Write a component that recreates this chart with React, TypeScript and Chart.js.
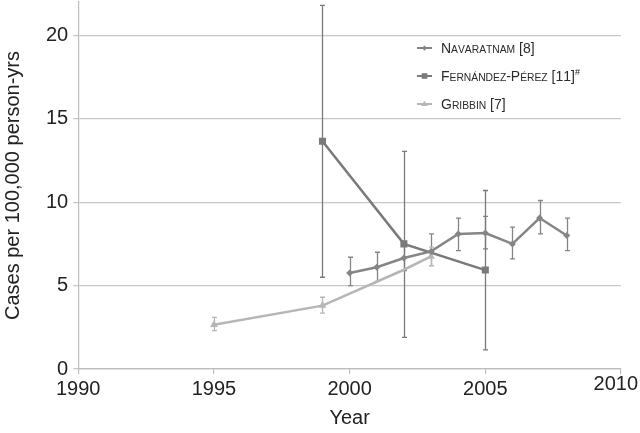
import React, { useEffect, useRef } from 'react';
import { Chart, registerables } from 'chart.js';

Chart.register(...registerables);

// ---- data ----
const seriesLabels = ['Navaratnam [8]', 'Fernández-Pérez [11]#', 'Gribbin [7]'];

const navYears = [2000, 2001, 2002, 2003, 2004, 2005, 2006, 2007, 2008];
const navRates = [5.75, 6.1, 6.65, 7.05, 8.1, 8.15, 7.5, 9.05, 8.0];
const navLow = [5.0, 5.25, 5.9, 6.2, 7.1, 7.2, 6.6, 8.1, 7.1];
const navHigh = [6.7, 7.0, 7.4, 8.1, 9.05, 9.15, 8.5, 10.1, 9.05];

const ferYears = [1999, 2002, 2005];
const ferRates = [13.65, 7.5, 5.93];
const ferLow = [5.5, 1.9, 1.15];
const ferHigh = [21.8, 13.05, 10.7];

const gribYears = [1995, 1999, 2002, 2003];
const gribRates = [2.65, 3.8, 5.95, 6.75];
const gribLow: (number | null)[] = [2.3, 3.35, null, 6.2];
const gribHigh: (number | null)[] = [3.1, 4.3, null, 7.3];

const xTickValues = [1990, 1995, 2000, 2005, 2010];
const yTickValues = [0, 5, 10, 15, 20];

const xTitle = 'Year';
const yTitle = 'Cases per 100,000 person-yrs';

const colors = ['#858585', '#7a7a7a', '#b6b6b6'];
const pointStyles = ['rectRot', 'rect', 'triangle'];
const pointRadii = [3.5, 5, 4.5];

const errLows = [navLow, ferLow, gribLow];
const errHighs = [navHigh, ferHigh, gribHigh];

const FONT = '"Liberation Sans", Arial, Helvetica, sans-serif';
const FS = 20;
const SHIFT = 3; // canvas is placed 3px above the page top

const toPoints = (xs: number[], ys: number[]) => xs.map((x, i) => ({ x, y: ys[i] }));

const errorBarPlugin = {
  id: 'errorBars',
  beforeDatasetsDraw(chart: any) {
    const { ctx, scales } = chart;
    const xs = scales.x;
    const ys = scales.y;
    chart.data.datasets.forEach((ds: any, i: number) => {
      const lows = errLows[i];
      const highs = errHighs[i];
      ctx.save();
      ctx.strokeStyle = colors[i];
      ctx.lineWidth = 1.3;
      ds.data.forEach((pt: any, j: number) => {
        const lo = lows[j];
        const hi = highs[j];
        if (lo == null || hi == null) return;
        const px = Math.round(xs.getPixelForValue(pt.x)) + 0.5;
        const yl = ys.getPixelForValue(lo);
        const yh = ys.getPixelForValue(hi);
        ctx.beginPath();
        ctx.moveTo(px, yl);
        ctx.lineTo(px, yh);
        ctx.moveTo(px - 2.5, yl);
        ctx.lineTo(px + 2.5, yl);
        ctx.moveTo(px - 2.5, yh);
        ctx.lineTo(px + 2.5, yh);
        ctx.stroke();
      });
      ctx.restore();
    });
  },
};

function drawSmallCapsText(ctx: CanvasRenderingContext2D, text: string, x: number, y: number) {
  let cx = x;
  for (const ch of Array.from(text)) {
    let font = `14px ${FONT}`;
    let drawCh = ch;
    let dy = 0;
    if (ch === '#') {
      font = `9px ${FONT}`;
      dy = -6;
    } else if (ch !== ch.toUpperCase()) {
      font = `10.3px ${FONT}`;
      drawCh = ch.toUpperCase();
    }
    ctx.font = font;
    ctx.fillText(drawCh, cx, y + dy);
    cx += ctx.measureText(drawCh).width;
  }
}

const legendPlugin = {
  id: 'customLegend',
  afterDraw(chart: any) {
    const { ctx } = chart;
    ctx.save();
    seriesLabels.forEach((label, i) => {
      const cy = 48 + SHIFT + i * 28;
      ctx.strokeStyle = colors[i];
      ctx.lineWidth = 2;
      ctx.beginPath();
      ctx.moveTo(417, cy);
      ctx.lineTo(432, cy);
      ctx.stroke();
      ctx.fillStyle = colors[i];
      const r = pointRadii[i] * 0.75;
      ctx.beginPath();
      if (pointStyles[i] === 'rectRot') {
        ctx.moveTo(424.5, cy - r);
        ctx.lineTo(424.5 + r, cy);
        ctx.lineTo(424.5, cy + r);
        ctx.lineTo(424.5 - r, cy);
      } else if (pointStyles[i] === 'rect') {
        const s = r * 0.75;
        ctx.rect(424.5 - s, cy - s, 2 * s, 2 * s);
      } else {
        ctx.moveTo(424.5, cy - r);
        ctx.lineTo(424.5 + r, cy + r * 0.6);
        ctx.lineTo(424.5 - r, cy + r * 0.6);
      }
      ctx.closePath();
      ctx.fill();

      ctx.fillStyle = '#2a2a2a';
      ctx.textBaseline = 'alphabetic';
      ctx.textAlign = 'left';
      drawSmallCapsText(ctx, label, 441, cy + 5);
    });

    // last x tick label (shifted as in the source figure)
    const xs = chart.scales.x;
    const last = xTickValues[xTickValues.length - 1];
    ctx.font = `${FS}px ${FONT}`;
    ctx.fillStyle = '#222';
    ctx.textAlign = 'right';
    ctx.textBaseline = 'middle';
    const lx = Math.min(xs.getPixelForValue(last) + 19, chart.width - 2);
    ctx.fillText(String(last), lx, xs.top + 15);
    ctx.restore();
  },
};

export default function App() {
  const ref = useRef<HTMLCanvasElement | null>(null);

  useEffect(() => {
    if (!ref.current) return;
    const datasets = [
      toPoints(navYears, navRates),
      toPoints(ferYears, ferRates),
      toPoints(gribYears, gribRates),
    ].map((data, i) => ({
      label: seriesLabels[i],
      data,
      borderColor: colors[i],
      backgroundColor: colors[i],
      borderWidth: 2.5,
      pointStyle: pointStyles[i],
      pointRadius: (c: any) => (errLows[i][c.dataIndex] == null ? 0 : pointRadii[i]),
      pointBorderWidth: 0,
      pointBackgroundColor: colors[i],
      pointBorderColor: colors[i],
      tension: 0,
    }));

    const chart = new Chart(ref.current, {
      type: 'line',
      data: { datasets },
      plugins: [errorBarPlugin, legendPlugin],
      options: {
        animation: false,
        responsive: true,
        maintainAspectRatio: false,
        layout: { padding: { left: 0, right: 19, top: 0, bottom: 0 } },
        plugins: {
          legend: { display: false },
          tooltip: { enabled: false },
        },
        scales: {
          x: {
            type: 'linear',
            min: xTickValues[0],
            max: xTickValues[xTickValues.length - 1],
            afterBuildTicks: (s: any) => {
              s.ticks = xTickValues.map((v) => ({ value: v }));
            },
            ticks: {
              autoSkip: false,
              maxRotation: 0,
              padding: 3,
              color: '#222',
              font: { family: FONT, size: FS },
              callback: (v: any) => (v === xTickValues[xTickValues.length - 1] ? '' : String(v)),
            },
            grid: {
              drawOnChartArea: false,
              drawTicks: true,
              tickLength: 5,
              color: '#bdbdbd',
              lineWidth: 1.2,
            },
            border: { color: '#bdbdbd', width: 1.2 },
            title: {
              display: true,
              text: xTitle,
              color: '#222',
              font: { family: FONT, size: FS },
              padding: { top: 2, bottom: 4 },
            },
          },
          y: {
            type: 'linear',
            min: 0,
            max: 22,
            afterBuildTicks: (s: any) => {
              s.ticks = yTickValues.map((v) => ({ value: v }));
            },
            afterFit: (s: any) => {
              s.paddingTop = 0;
              s.paddingBottom = 0;
            },
            ticks: {
              padding: 5,
              color: '#222',
              font: { family: FONT, size: FS },
            },
            grid: {
              drawTicks: true,
              tickLength: 5,
              color: '#c8c8c8',
              lineWidth: 1.3,
            },
            border: { color: '#bdbdbd', width: 1.2 },
            title: {
              display: true,
              text: yTitle,
              color: '#222',
              font: { family: FONT, size: FS },
              padding: { top: 1, bottom: 16 },
            },
          },
        },
      },
    });
    return () => chart.destroy();
  }, []);

  return (
    <div
      style={{
        position: 'fixed',
        left: 0,
        top: -SHIFT,
        width: 640,
        height: 433 + SHIFT + 1,
        background: '#fff',
      }}
    >
      <canvas ref={ref} />
    </div>
  );
}
